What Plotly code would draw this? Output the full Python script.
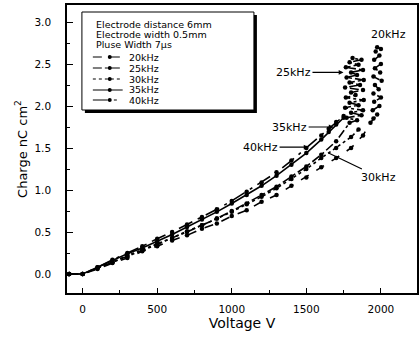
import plotly.graph_objects as go

# ---------------- data ----------------
v_20 = [-90, 0, 100, 200, 300, 400, 500, 600, 700, 800, 900, 1000, 1100, 1200, 1300, 1400,
        1500, 1600, 1700, 1800, 1880, 1930,
        1950, 1975, 1945, 1990, 1955, 2000, 1950, 1985, 1960, 2005, 1950, 1995, 1960, 2000,
        1955, 1990, 1965, 2000, 1975]
q_20 = [0.0, 0.0, 0.06, 0.13, 0.19, 0.27, 0.33, 0.40, 0.46, 0.54, 0.60, 0.69, 0.76, 0.86, 0.94, 1.05,
        1.15, 1.27, 1.38, 1.50, 1.65, 1.80,
        1.85, 1.90, 1.95, 2.00, 2.05, 2.10, 2.15, 2.20, 2.25, 2.30, 2.35, 2.40, 2.45, 2.50,
        2.55, 2.60, 2.65, 2.68, 2.70]

v_25 = [-90, 0, 100, 200, 300, 400, 500, 600, 700, 800, 900, 1000, 1100, 1200, 1300, 1400,
        1500, 1600, 1700,
        1790, 1840, 1770, 1870, 1800, 1880, 1760, 1850, 1790, 1885, 1765, 1830, 1800, 1880,
        1760, 1860, 1790, 1885, 1770, 1840, 1800, 1880, 1765, 1850, 1790, 1870, 1810]
q_25 = [0.0, 0.0, 0.07, 0.14, 0.21, 0.28, 0.35, 0.43, 0.50, 0.58, 0.66, 0.75, 0.84, 0.94, 1.04, 1.16,
        1.28, 1.42, 1.58,
        1.80, 1.83, 1.86, 1.89, 1.92, 1.95, 1.98, 2.01, 2.04, 2.07, 2.10, 2.13, 2.16, 2.19,
        2.22, 2.25, 2.28, 2.31, 2.34, 2.37, 2.40, 2.43, 2.46, 2.49, 2.52, 2.55, 2.57]

v_30 = [-90, 0, 100, 200, 300, 400, 500, 600, 700, 800, 900, 1000, 1100, 1200, 1300, 1400,
        1500, 1600, 1700, 1800, 1850]
q_30 = [0.0, 0.0, 0.07, 0.14, 0.22, 0.29, 0.36, 0.43, 0.51, 0.58, 0.66, 0.74, 0.83, 0.92, 1.02, 1.13,
        1.25, 1.38, 1.50, 1.63, 1.72]

v_35 = [-90, 0, 100, 200, 300, 400, 500, 600, 700, 800, 900, 1000, 1100, 1200, 1300, 1400,
        1500, 1600, 1650, 1700, 1750]
q_35 = [0.0, 0.0, 0.08, 0.16, 0.24, 0.31, 0.39, 0.47, 0.56, 0.65, 0.74, 0.84, 0.94, 1.05, 1.17, 1.30,
        1.44, 1.60, 1.69, 1.78, 1.86]

v_40 = [-90, 0, 100, 200, 300, 400, 500, 600, 700, 800, 900, 1000, 1100, 1200, 1300, 1400,
        1500, 1600, 1650, 1700, 1750]
q_40 = [0.0, 0.0, 0.08, 0.17, 0.25, 0.33, 0.42, 0.50, 0.59, 0.68, 0.77, 0.87, 0.98, 1.09, 1.21, 1.35,
        1.50, 1.65, 1.73, 1.81, 1.88]

series_names = ["20kHz", "25kHz", "30kHz", "35kHz", "40kHz"]
header_lines = ["Electrode distance 6mm", "Electrode width 0.5mm", "Pluse Width 7\u00b5s"]

x_ticks = [0, 500, 1000, 1500, 2000]
y_ticks = [0.0, 0.5, 1.0, 1.5, 2.0, 2.5, 3.0]

# ---------------- figure ----------------
FONT = "DejaVu Sans"
W, H = 419, 338
L, R, T, B = 67, 0, 5, 45
pw, ph = W - L - R, H - T - B


def fx(px):
    return (px - L) / pw


def fy(py):
    return (H - B - py) / ph


dashes = ["dash", "dashdot", "dot", "solid", "longdashdot"]
data = [(v_20, q_20), (v_25, q_25), (v_30, q_30), (v_35, q_35), (v_40, q_40)]

fig = go.Figure()
for (vx, qy), name, d in zip(data, series_names, dashes):
    fig.add_trace(go.Scatter(
        x=vx, y=qy, name=name, mode="lines+markers",
        line=dict(color="black", width=1.6, dash=d),
        marker=dict(color="black", size=4.5),
        showlegend=False,
    ))

# curve labels
labels = [
    dict(x=2048, y=2.85, text="20kHz", showarrow=False),
    dict(x=1749, y=2.40, text="25kHz", showarrow=True, ax=-50, ay=0, arrowhead=2,
         arrowsize=0.8, arrowwidth=1.2),
    dict(x=1683, y=1.75, text="35kHz", showarrow=True, ax=-44, ay=0, arrowhead=2,
         arrowsize=0.8, arrowwidth=1.2),
    dict(x=1515, y=1.51, text="40kHz", showarrow=True, ax=-48, ay=0, arrowhead=2,
         arrowsize=0.8, arrowwidth=1.2),
    dict(x=1649, y=1.44, text="30kHz", showarrow=True, ax=50, ay=24, arrowhead=0,
         arrowwidth=1.2),
]
for a in labels:
    fig.add_annotation(xref="x", yref="y", font=dict(family=FONT, size=11, color="black"),
                       arrowcolor="black", **a)

# legend box with shadow
shapes = [
    dict(type="rect", xref="paper", yref="paper", x0=fx(85), x1=fx(258), y0=fy(113), y1=fy(15),
         fillcolor="black", line=dict(width=0), layer="above"),
    dict(type="rect", xref="paper", yref="paper", x0=fx(82), x1=fx(255), y0=fy(110), y1=fy(12),
         fillcolor="white", line=dict(color="black", width=1), layer="above"),
]
row_y = [57, 68, 79, 90, 100]
for d, ry in zip(dashes, row_y):
    shapes.append(dict(type="line", xref="paper", yref="paper", x0=fx(93), x1=fx(123),
                       y0=fy(ry), y1=fy(ry), line=dict(color="black", width=1, dash=d),
                       layer="above"))
    shapes.append(dict(type="circle", xref="paper", yref="paper", x0=fx(108), x1=fx(112),
                       y0=fy(ry + 2), y1=fy(ry - 2), fillcolor="black",
                       line=dict(width=0), layer="above"))
fig.update_layout(shapes=shapes)

for txt, ty in zip(header_lines, [25, 35, 45]):
    fig.add_annotation(xref="paper", yref="paper", x=fx(94), y=fy(ty), xanchor="left",
                       yanchor="middle", text=txt, showarrow=False,
                       font=dict(family=FONT, size=9.5, color="black"))
for name, ry in zip(series_names, row_y):
    fig.add_annotation(xref="paper", yref="paper", x=fx(127), y=fy(ry), xanchor="left",
                       yanchor="middle", text=name, showarrow=False,
                       font=dict(family=FONT, size=9.5, color="black"))

x0 = (L - 82.7) / 0.15
x1 = (W - R - 82.7) / 0.15
y0 = (274 - (H - B)) / 84
y1 = (274 - T) / 84

fig.update_xaxes(
    range=[x0, x1], tickvals=x_ticks, ticktext=[str(v) for v in x_ticks],
    ticks="inside", ticklen=5, tickwidth=1.2, tickcolor="black",
    minor=dict(dtick=250, tick0=0, ticks="inside", ticklen=3, tickcolor="black"),
    showline=True, linecolor="black", linewidth=1.6, mirror=True,
    showgrid=False, zeroline=False, ticklabelstandoff=6,
    tickfont=dict(family=FONT, size=10.5, color="black"),
    title=dict(text="Voltage V", font=dict(family=FONT, size=14, color="black"), standoff=4),
)
fig.update_yaxes(
    range=[y0, y1], tickvals=y_ticks, ticktext=[f"{v:.1f}" for v in y_ticks],
    ticks="inside", ticklen=6, tickwidth=1.2, tickcolor="black",
    minor=dict(dtick=0.25, tick0=0, ticks="inside", ticklen=3, tickcolor="black"),
    showline=True, linecolor="black", linewidth=1.6, mirror=True,
    showgrid=False, zeroline=False, ticklabelstandoff=12,
    tickfont=dict(family=FONT, size=10.5, color="black"),
    title=dict(text="Charge nC cm<sup>2</sup>", font=dict(family=FONT, size=13, color="black"),
               standoff=4),
)

fig.update_layout(
    width=W, height=H, margin=dict(l=L, r=R, t=T, b=B),
    paper_bgcolor="white", plot_bgcolor="white", showlegend=False,
)

fig.write_html("out.html")
